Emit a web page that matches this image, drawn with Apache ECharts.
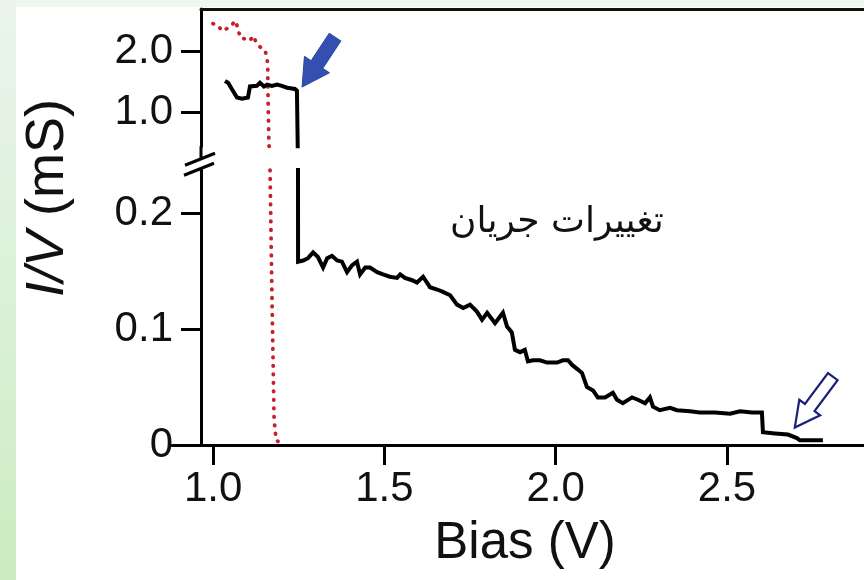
<!DOCTYPE html>
<html>
<head>
<meta charset="utf-8">
<script src="https://cdn.jsdelivr.net/npm/echarts@6/dist/echarts.min.js"></script>
<style>
  html, body { margin: 0; padding: 0; background: #ffffff; }
  #chart { width: 864px; height: 580px; }
</style>
</head>
<body>
<div id="chart"></div>
<script>
// Conductance (I/V) against bias voltage, split axis: high range above, low range below.
const biasBlack = [
  1.035, 1.044, 1.058, 1.070, 1.085, 1.102, 1.108, 1.128, 1.137, 1.149, 1.158, 1.172, 1.187, 1.201, 1.216, 1.239, 1.245,
  1.248, 1.263, 1.277, 1.292, 1.306, 1.321, 1.333, 1.347, 1.362, 1.376, 1.391, 1.406, 1.420, 1.429, 1.444, 1.458,
  1.479, 1.496, 1.516, 1.537, 1.546, 1.560, 1.581, 1.595, 1.613, 1.633, 1.654, 1.671, 1.692, 1.712, 1.730, 1.750,
  1.770, 1.785, 1.800, 1.823, 1.846, 1.858, 1.872, 1.881, 1.896, 1.910, 1.919, 1.934, 1.954, 1.975, 2.004, 2.021,
  2.036, 2.048, 2.065, 2.077, 2.091, 2.109, 2.123, 2.144, 2.167, 2.179, 2.196, 2.223, 2.240, 2.261, 2.275, 2.284,
  2.304, 2.334, 2.354, 2.392, 2.421, 2.465, 2.509, 2.538, 2.573, 2.602, 2.605, 2.640, 2.678, 2.704, 2.713, 2.748, 2.780
];
const condBlack = [
  1.52, 1.49, 1.36, 1.25, 1.23, 1.25, 1.43, 1.44, 1.49, 1.43, 1.46, 1.44, 1.46, 1.44, 1.41, 1.39, 1.36,
  0.158, 0.159, 0.161, 0.166, 0.162, 0.153, 0.161, 0.163, 0.159, 0.158, 0.149, 0.155, 0.158, 0.147, 0.153, 0.153,
  0.149, 0.147, 0.145, 0.144, 0.147, 0.144, 0.142, 0.140, 0.145, 0.136, 0.134, 0.132, 0.129, 0.121, 0.118, 0.121,
  0.115, 0.108, 0.114, 0.105, 0.114, 0.102, 0.097, 0.082, 0.080, 0.082, 0.072, 0.073, 0.073, 0.071, 0.071, 0.073,
  0.073, 0.069, 0.065, 0.062, 0.050, 0.047, 0.041, 0.041, 0.045, 0.039, 0.036, 0.041, 0.039, 0.036, 0.041, 0.033,
  0.030, 0.032, 0.030, 0.029, 0.028, 0.028, 0.027, 0.029, 0.028, 0.028, 0.011, 0.010, 0.009, 0.006, 0.004, 0.004, 0.004
];
const biasRed = [
  1.000, 1.015, 1.026, 1.041, 1.055, 1.064, 1.073, 1.079, 1.093, 1.108, 1.117, 1.128, 1.143, 1.152, 1.158, 1.160,
  1.160, 1.163, 1.166, 1.172, 1.178, 1.184, 1.190
];
const condRed = [
  2.46, 2.43, 2.34, 2.38, 2.43, 2.51, 2.39, 2.23, 2.21, 2.18, 2.26, 2.13, 2.05, 2.02, 1.89, 1.74,
  1.48, 0.54, 0.24, 0.125, 0.022, 0.004, 0.003
];
const biasTicks = [1.0, 1.5, 2.0, 2.5];
const upperTicks = [1.0, 2.0];
const lowerTicks = [0, 0.1, 0.2];
const noteText = 'تغییرات جریان';

const blackPairs = biasBlack.map((b, i) => [b, condBlack[i]]);
const redPairs = biasRed.map((b, i) => [b, condRed[i]]);

const FONT = 'Liberation Sans, Arial, Helvetica, sans-serif';
const chart = echarts.init(document.getElementById('chart'), null, { renderer: 'canvas' });

const tickStyle = { show: true, length: 20, inside: false, lineStyle: { color: '#000', width: 3 } };
const labelStyle = { color: '#111', fontFamily: FONT, fontSize: 42 };

const option = {
  animation: false,
  backgroundColor: '#ffffff',
  title: {
    text: noteText,
    left: 445,
    top: 200,
    textStyle: { fontFamily: 'DejaVu Sans', fontSize: 36, fontWeight: 'normal', color: '#111' }
  },
  grid: [
    { left: 201, right: 0, top: 9, height: 137.25, containLabel: false },
    { left: 172, right: 0, top: 170, bottom: 135, containLabel: false }
  ],
  xAxis: [
    {
      type: 'value', gridIndex: 0, position: 'top', min: 0.965, max: 2.9,
      axisLine: { show: true, lineStyle: { color: '#111', width: 3 } },
      axisTick: { show: false }, axisLabel: { show: false }, splitLine: { show: false }
    },
    {
      type: 'value', gridIndex: 1, position: 'bottom', min: 0.88, max: 2.9,
      axisLine: { show: true, onZero: false, lineStyle: { color: '#000', width: 3 } },
      axisTick: Object.assign({ customValues: biasTicks }, tickStyle),
      axisLabel: Object.assign({ customValues: biasTicks, margin: 23, formatter: v => v.toFixed(1) }, labelStyle),
      splitLine: { show: false },
      name: 'Bias (V)', nameLocation: 'middle', nameGap: 73,
      nameTextStyle: { fontFamily: FONT, fontSize: 51, color: '#111', padding: [0, 0, 0, 14] }
    }
  ],
  yAxis: [
    {
      type: 'value', gridIndex: 0, position: 'left', min: 0.45, max: 2.7,
      axisLine: { show: true, onZero: false, lineStyle: { color: '#000', width: 3 } },
      axisTick: Object.assign({ customValues: upperTicks }, tickStyle),
      axisLabel: Object.assign({ customValues: upperTicks, margin: 28, formatter: v => v.toFixed(1) }, labelStyle),
      splitLine: { show: false }
    },
    {
      type: 'value', gridIndex: 1, position: 'left', offset: -29, min: 0, max: 0.237,
      axisLine: { show: true, onZero: false, lineStyle: { color: '#000', width: 3 } },
      axisTick: Object.assign({ customValues: lowerTicks }, tickStyle),
      axisLabel: Object.assign({ customValues: lowerTicks, margin: 28, formatter: v => (v === 0 ? '0' : v.toFixed(1)) }, labelStyle),
      splitLine: { show: false }
    }
  ],
  series: [
    {
      name: 'red-upper', type: 'line', xAxisIndex: 0, yAxisIndex: 0, data: redPairs, showSymbol: false, clip: true,
      lineStyle: { color: '#c4212a', width: 3.8, type: [0.5, 8], cap: 'round' }, z: 3
    },
    {
      name: 'red-lower', type: 'line', xAxisIndex: 1, yAxisIndex: 1, data: redPairs, showSymbol: false, clip: true,
      lineStyle: { color: '#c4212a', width: 3.8, type: [0.5, 8], cap: 'round' }, z: 3
    },
    {
      name: 'black-upper', type: 'line', xAxisIndex: 0, yAxisIndex: 0, data: blackPairs, showSymbol: false, clip: true,
      lineStyle: { color: '#000', width: 4, join: 'miter' }, z: 4
    },
    {
      name: 'black-lower', type: 'line', xAxisIndex: 1, yAxisIndex: 1, data: blackPairs, showSymbol: false, clip: true,
      lineStyle: { color: '#000', width: 4, join: 'miter' }, z: 4
    }
  ]
};
chart.setOption(option);

// Arrow outline from a tip point and a tail offset (pixels).
function arrowPoints(tip, tailOffset, headLen, headHalf, shaftHalf) {
  const tail = [tip[0] + tailOffset[0], tip[1] + tailOffset[1]];
  const dx = tip[0] - tail[0], dy = tip[1] - tail[1];
  const L = Math.hypot(dx, dy);
  const ux = dx / L, uy = dy / L, px = -uy, py = ux;
  const bx = tip[0] - ux * headLen, by = tip[1] - uy * headLen;
  return [
    tip,
    [bx + px * headHalf, by + py * headHalf],
    [bx + px * shaftHalf, by + py * shaftHalf],
    [tail[0] + px * shaftHalf, tail[1] + py * shaftHalf],
    [tail[0] - px * shaftHalf, tail[1] - py * shaftHalf],
    [bx - px * shaftHalf, by - py * shaftHalf],
    [bx - px * headHalf, by - py * headHalf]
  ];
}

const tipUpper = chart.convertToPixel({ xAxisIndex: 0, yAxisIndex: 0 }, [1.26, 1.42]);
const tipLower = chart.convertToPixel({ xAxisIndex: 1, yAxisIndex: 1 }, [2.698, 0.015]);
const upperBottom = chart.convertToPixel({ xAxisIndex: 0, yAxisIndex: 0 }, [0.965, 0.45]);
const lowerTop = chart.convertToPixel({ xAxisIndex: 1, yAxisIndex: 1 }, [0.965, 0.237]);
const axisX = upperBottom[0];
const breakY1 = upperBottom[1] + 13;
const breakY2 = breakY1 + 10;

chart.setOption({
  graphic: [
    {
      type: 'rect', z: -10, silent: true,
      shape: { x: 0, y: 0, width: 864, height: 7 },
      style: { fill: '#eef6ef' }
    },
    {
      type: 'rect', z: -10, silent: true,
      shape: { x: 0, y: 0, width: 16, height: 580 },
      style: {
        fill: new echarts.graphic.LinearGradient(0, 0, 0, 1, [
          { offset: 0, color: '#eaf4ec' },
          { offset: 0.5, color: '#dcf1d8' },
          { offset: 1, color: '#caecc0' }
        ])
      }
    },
    {
      type: 'line', silent: true, z: 5,
      shape: { x1: axisX, y1: upperBottom[1], x2: axisX, y2: breakY1 },
      style: { stroke: '#000', lineWidth: 3 }
    },
    {
      type: 'line', silent: true, z: 5,
      shape: { x1: axisX, y1: breakY2 + 2, x2: axisX, y2: lowerTop[1] },
      style: { stroke: '#000', lineWidth: 3 }
    },
    {
      type: 'line', silent: true, z: 6,
      shape: { x1: axisX - 16, y1: breakY1 + 6, x2: axisX + 14, y2: breakY1 - 6 },
      style: { stroke: '#000', lineWidth: 3 }
    },
    {
      type: 'line', silent: true, z: 6,
      shape: { x1: axisX - 17, y1: breakY2 + 6, x2: axisX + 13, y2: breakY2 - 6 },
      style: { stroke: '#000', lineWidth: 3 }
    },
    {
      type: 'polygon', silent: true, z: 7,
      shape: { points: arrowPoints(tipUpper, [33, -50], 27, 15, 7) },
      style: { fill: '#3350b0', stroke: '#2a46a0', lineWidth: 1 }
    },
    {
      type: 'polygon', silent: true, z: 7,
      shape: { points: arrowPoints(tipLower, [38, -51], 25, 13, 6) },
      style: { fill: '#ffffff', stroke: '#1c1f7c', lineWidth: 2.2 }
    },
    {
      type: 'text', silent: true, z: 7,
      x: 48, y: 198, rotation: Math.PI / 2,
      style: {
        text: '{it|I/V} (mS)',
        fontFamily: FONT, fontSize: 54, fill: '#111',
        align: 'center', verticalAlign: 'middle',
        rich: { it: { fontFamily: FONT, fontSize: 54, fontStyle: 'italic', fill: '#111' } }
      }
    }
  ]
});
</script>
</body>
</html>
